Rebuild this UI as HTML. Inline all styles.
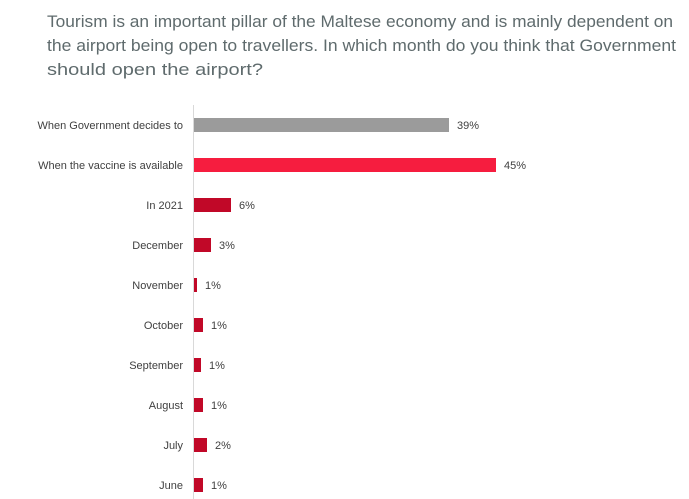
<!DOCTYPE html>
<html><head><meta charset="utf-8"><style>
html,body{margin:0;padding:0;background:#fff;}
svg{display:block;}
</style></head><body>
<svg width="689" height="499" xmlns="http://www.w3.org/2000/svg" font-family="Liberation Sans, sans-serif">
<g fill="#5f6b6d" font-size="17">
<text x="47" y="27" textLength="626" lengthAdjust="spacingAndGlyphs">Tourism is an important pillar of the Maltese economy and is mainly dependent on</text>
<text x="47" y="51" textLength="629" lengthAdjust="spacingAndGlyphs">the airport being open to travellers. In which month do you think that Government</text>
<text x="47" y="75" textLength="216" lengthAdjust="spacingAndGlyphs">should open the airport?</text>
</g>
<line x1="193.5" y1="105" x2="193.5" y2="499" stroke="#d9d9d9" stroke-width="1"/>
<g font-size="11" fill="#404040" text-anchor="end">
<text x="183" y="129">When Government decides to</text>
<text x="183" y="169">When the vaccine is available</text>
<text x="183" y="209">In 2021</text>
<text x="183" y="249">December</text>
<text x="183" y="289">November</text>
<text x="183" y="329">October</text>
<text x="183" y="369">September</text>
<text x="183" y="409">August</text>
<text x="183" y="449">July</text>
<text x="183" y="489">June</text>
</g>
<rect x="194" y="118" width="255" height="14" fill="#9b9b9b"/>
<rect x="194" y="158" width="302" height="14" fill="#f61d3f"/>
<rect x="194" y="198" width="37" height="14" fill="#c10828"/>
<rect x="194" y="238" width="17" height="14" fill="#c10828"/>
<rect x="194" y="278" width="3" height="14" fill="#c10828"/>
<rect x="194" y="318" width="9" height="14" fill="#c10828"/>
<rect x="194" y="358" width="7" height="14" fill="#c10828"/>
<rect x="194" y="398" width="9" height="14" fill="#c10828"/>
<rect x="194" y="438" width="13" height="14" fill="#c10828"/>
<rect x="194" y="478" width="9" height="14" fill="#c10828"/>
<g font-size="11" fill="#404040">
<text x="457" y="129">39%</text>
<text x="504" y="169">45%</text>
<text x="239" y="209">6%</text>
<text x="219" y="249">3%</text>
<text x="205" y="289">1%</text>
<text x="211" y="329">1%</text>
<text x="209" y="369">1%</text>
<text x="211" y="409">1%</text>
<text x="215" y="449">2%</text>
<text x="211" y="489">1%</text>
</g>
</svg>
</body></html>
